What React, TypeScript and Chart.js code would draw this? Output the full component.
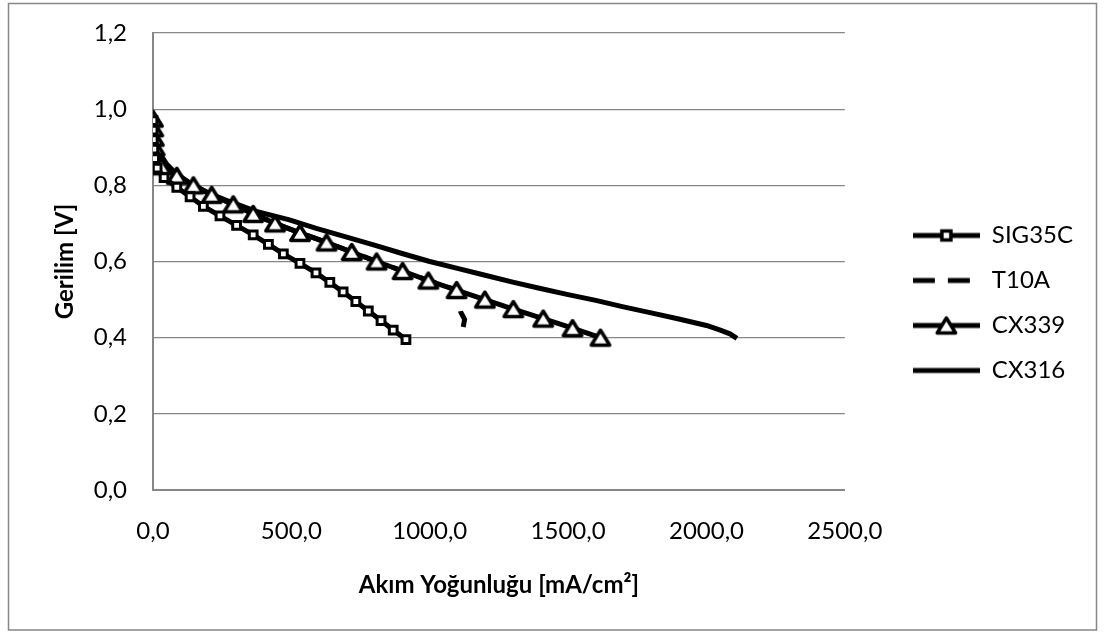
import React, { useEffect, useRef } from 'react';
import { Chart, registerables } from 'chart.js';

Chart.register(...registerables);

const seriesLabels = ['SIG35C', 'T10A', 'CX339', 'CX316'];

const sig35cX = [0, 0.5, 1, 3, 6, 15, 40, 86, 134, 182, 242, 302, 362, 417, 471, 531, 589, 639, 687, 733, 778, 824, 868, 914];
const sig35cY = [0.97, 0.945, 0.92, 0.895, 0.87, 0.845, 0.82, 0.795, 0.77, 0.745, 0.72, 0.695, 0.67, 0.645, 0.62, 0.595, 0.57, 0.545, 0.52, 0.495, 0.47, 0.445, 0.42, 0.395];

const t10aX = [0, 1, 3, 6, 12, 30, 86, 146, 212, 290, 362, 441, 531, 627, 718, 808, 902, 995, 1097, 1112, 1126, 1121];
const t10aY = [0.975, 0.95, 0.925, 0.9, 0.875, 0.85, 0.825, 0.8, 0.775, 0.75, 0.725, 0.7, 0.675, 0.65, 0.625, 0.6, 0.575, 0.55, 0.525, 0.467, 0.448, 0.428];

const cx339X = [0, 1, 3, 6, 12, 30, 86, 146, 212, 290, 362, 441, 531, 627, 718, 808, 902, 995, 1097, 1199, 1302, 1410, 1516, 1617];
const cx339Y = [0.975, 0.95, 0.925, 0.9, 0.875, 0.85, 0.825, 0.8, 0.775, 0.75, 0.725, 0.7, 0.675, 0.65, 0.625, 0.6, 0.575, 0.55, 0.525, 0.5, 0.475, 0.45, 0.425, 0.4];

const cx316X = [0, 3, 8, 15, 28, 50, 85, 135, 200, 285, 380, 490, 590, 700, 800, 900, 1000, 1100, 1200, 1300, 1400, 1500, 1600, 1700, 1800, 1900, 2000, 2050, 2085, 2110];
const cx316Y = [0.98, 0.955, 0.93, 0.905, 0.88, 0.855, 0.83, 0.805, 0.78, 0.755, 0.73, 0.71, 0.687, 0.664, 0.643, 0.621, 0.6, 0.582, 0.564, 0.546, 0.529, 0.513, 0.498, 0.481, 0.465, 0.449, 0.432, 0.42, 0.41, 0.398];

const xTicks = [0, 500, 1000, 1500, 2000, 2500];
const yTicks = [0, 0.2, 0.4, 0.6, 0.8, 1.0, 1.2];
const xTitle = 'Akım Yoğunluğu [mA/cm²]';
const yTitle = 'Gerilim [V]';

const fmt = (v: number) => v.toFixed(1).replace('.', ',');
const pts = (xs: number[], ys: number[]) => xs.map((x, i) => ({ x, y: ys[i] }));

function makeCanvas(w: number, h: number, draw: (c: CanvasRenderingContext2D) => void) {
  const cv = document.createElement('canvas');
  cv.width = w;
  cv.height = h;
  const c = cv.getContext('2d')!;
  draw(c);
  return cv;
}

function drawTriangle(c: CanvasRenderingContext2D, cx: number, cy: number) {
  c.beginPath();
  c.moveTo(cx, cy - 7.5);
  c.lineTo(cx + 9.2, cy + 7.5);
  c.lineTo(cx - 9.2, cy + 7.5);
  c.closePath();
  c.fillStyle = '#fff';
  c.fill();
  c.lineWidth = 3.5;
  c.lineJoin = 'round';
  c.strokeStyle = '#000';
  c.stroke();
}

const framePlugin = {
  id: 'frame',
  beforeDraw(chart: any) {
    const c = chart.ctx;
    c.save();
    c.fillStyle = '#fff';
    c.fillRect(0, 0, chart.width, chart.height);
    c.strokeStyle = '#878787';
    c.lineWidth = 1.5;
    c.strokeRect(8.5, 3.5, 1088, 626.5);
    c.restore();
  },
};

export default function App() {
  const ref = useRef<HTMLCanvasElement>(null);

  useEffect(() => {
    const tri = makeCanvas(26, 24, (c) => drawTriangle(c, 13, 12));

    const lineIcon = (c: CanvasRenderingContext2D) => {
      c.fillStyle = '#000';
      c.fillRect(0, 10.5, 67, 5);
    };
    const legendIcons = [
      makeCanvas(67, 26, (c) => {
        lineIcon(c);
        c.fillStyle = '#fff';
        c.strokeStyle = '#000';
        c.lineWidth = 3.5;
        c.fillRect(29, 8.5, 9, 9);
        c.strokeRect(29, 8.5, 9, 9);
      }),
      makeCanvas(67, 26, (c) => {
        c.fillStyle = '#000';
        c.fillRect(0, 10.5, 22, 5);
        c.fillRect(35, 10.5, 22, 5);
      }),
      makeCanvas(67, 26, (c) => {
        lineIcon(c);
        drawTriangle(c, 33.5, 13);
      }),
      makeCanvas(67, 26, (c) => lineIcon(c)),
    ];

    Chart.defaults.font.family = 'Lato, "Open Sans", sans-serif';
    Chart.defaults.color = '#000';

    const chart = new Chart(ref.current!, {
      type: 'scatter',
      data: {
        datasets: [
          {
            label: seriesLabels[0],
            data: pts(sig35cX, sig35cY),
            showLine: true,
            borderColor: '#000',
            backgroundColor: '#fff',
            borderWidth: 5,
            pointStyle: 'rect',
            pointRadius: 5.5,
            pointBorderWidth: 3,
            pointBackgroundColor: '#fff',
            pointBorderColor: '#000',
            order: 0,
          },
          {
            label: seriesLabels[1],
            data: pts(t10aX, t10aY).reverse(),
            showLine: true,
            borderColor: '#000',
            backgroundColor: '#000',
            borderWidth: 5,
            borderDash: [17, 13],
            pointRadius: 0,
            order: 3,
          },
          {
            label: seriesLabels[2],
            data: pts(cx339X, cx339Y),
            showLine: true,
            borderColor: '#000',
            backgroundColor: '#fff',
            borderWidth: 5,
            pointStyle: tri as any,
            pointRadius: 9,
            order: 1,
          },
          {
            label: seriesLabels[3],
            data: pts(cx316X, cx316Y),
            showLine: true,
            borderColor: '#000',
            backgroundColor: '#000',
            borderWidth: 5,
            pointRadius: 0,
            order: 2,
          },
        ],
      },
      options: {
        animation: false,
        responsive: true,
        maintainAspectRatio: false,
        elements: { line: { borderJoinStyle: 'round' } },
        layout: { padding: { left: 30, top: -8, right: 22, bottom: 20 } },
        plugins: {
          tooltip: { enabled: false },
          legend: {
            position: 'right',
            maxWidth: 400,
            labels: {
              usePointStyle: true,
              pointStyleWidth: 67,
              padding: 21,
              font: { size: 24 },
              color: '#000',
              sort: (a: any, b: any) => a.datasetIndex - b.datasetIndex,
              generateLabels: (ch: any) => {
                const items = (Chart.defaults.plugins.legend.labels as any).generateLabels(ch);
                return items.map((it: any) => ({ ...it, pointStyle: legendIcons[it.datasetIndex], fontColor: '#000' }));
              },
            },
          },
        },
        scales: {
          x: {
            type: 'linear',
            min: 0,
            max: 2500,
            afterBuildTicks: (s: any) => {
              s.ticks = xTicks.map((v) => ({ value: v }));
            },
            afterFit: (s: any) => {
              s.height = 124;
            },
            ticks: {
              callback: (v: any) => fmt(Number(v)),
              autoSkip: false,
              maxRotation: 0,
              padding: 19,
              font: { size: 24 },
              color: '#000',
            },
            grid: { display: false },
            border: { display: true, color: '#878787', width: 2 },
            title: {
              display: true,
              text: xTitle,
              color: '#000',
              font: { size: 24, weight: 'bold' },
              padding: { top: 0, bottom: 14 },
            },
          },
          y: {
            type: 'linear',
            min: 0,
            max: 1.2,
            afterBuildTicks: (s: any) => {
              s.ticks = yTicks.map((v) => ({ value: v }));
            },
            afterFit: (s: any) => {
              s.width = 123;
              s.paddingTop = 33;
            },
            ticks: {
              callback: (v: any) => fmt(Number(v)),
              padding: 26,
              font: { size: 24 },
              color: '#000',
            },
            grid: { color: '#878787', lineWidth: 1.3, drawTicks: false },
            border: { display: true, color: '#878787', width: 2 },
            title: {
              display: true,
              text: yTitle,
              color: '#000',
              font: { size: 24, weight: 'bold', lineHeight: 2.3667 },
              padding: { top: 6.6, bottom: 0 },
            },
          },
          gap: {
            type: 'linear',
            position: 'right',
            display: true,
            ticks: { display: false },
            grid: { display: false },
            border: { display: false },
            afterFit: (s: any) => {
              s.width = 47;
            },
          },
        },
      } as any,
      plugins: [framePlugin],
    });

    return () => chart.destroy();
  }, []);

  return (
    <div style={{ position: 'absolute', left: 0, top: 0, width: 1105, height: 634 }}>
      <canvas ref={ref} />
    </div>
  );
}
